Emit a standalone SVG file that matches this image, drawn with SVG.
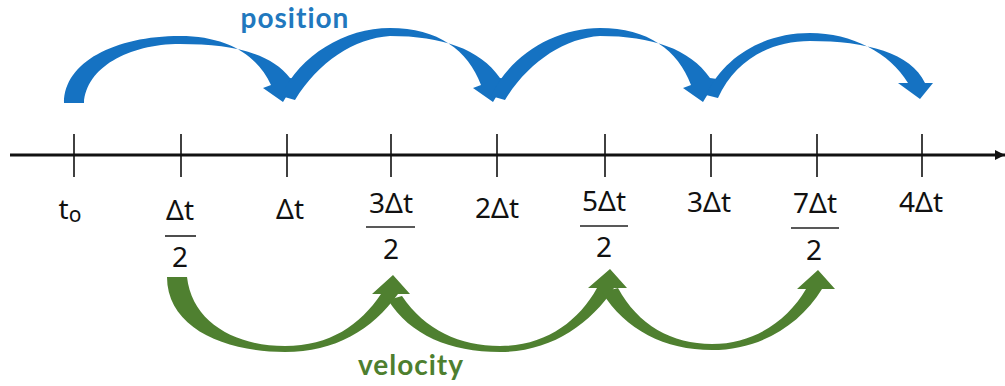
<svg xmlns="http://www.w3.org/2000/svg" width="1005" height="386" viewBox="0 0 1005 386">
  <style>
    .lbl { font-family: "Noto Sans", "DejaVu Sans", sans-serif; font-size: 28px; fill: #111; text-anchor: middle; }
    .tick { stroke: #111; stroke-width: 1.6; }
    .bar { stroke: #222; stroke-width: 1.6; }
    .blue { fill: #1572C2; }
    .green { fill: #4F8030; }
    .title { font-family: "Lato", "Open Sans", sans-serif; font-weight: bold; font-size: 28px; text-anchor: middle; letter-spacing: 1px; }
  </style>
  <defs>
    <marker id="axisHead" viewBox="0 0 10 10" refX="10" refY="5" markerWidth="10" markerHeight="10" markerUnits="userSpaceOnUse" orient="auto">
      <path d="M0,0 L10,5 L0,10 Z" fill="#111"/>
    </marker>
  </defs>
  <rect width="1005" height="386" fill="#fff"/>

  <g id="axis">
    <line x1="10" y1="155" x2="1005" y2="155" stroke="#111" stroke-width="3" marker-end="url(#axisHead)"/>
    <line class="tick" x1="74" y1="134" x2="74" y2="177"/>
    <line class="tick" x1="181" y1="134" x2="181" y2="177"/>
    <line class="tick" x1="287" y1="134" x2="287" y2="177"/>
    <line class="tick" x1="391" y1="134" x2="391" y2="177"/>
    <line class="tick" x1="497" y1="134" x2="497" y2="177"/>
    <line class="tick" x1="605" y1="134" x2="605" y2="177"/>
    <line class="tick" x1="711" y1="134" x2="711" y2="177"/>
    <line class="tick" x1="817" y1="134" x2="817" y2="177"/>
    <line class="tick" x1="922" y1="134" x2="922" y2="177"/>
  </g>

  <g id="label-t0"><text class="lbl" x="70" y="219">t<tspan font-size="21" dy="3">o</tspan></text></g>
  <g id="label-dt-half">
    <text class="lbl" x="180" y="220">Δt</text>
    <line class="bar" x1="165" y1="236" x2="196" y2="236"/>
    <text class="lbl" x="180" y="267">2</text>
  </g>
  <g id="label-dt"><text class="lbl" x="290" y="219">Δt</text></g>
  <g id="label-3dt-half">
    <text class="lbl" x="391" y="213">3Δt</text>
    <line class="bar" x1="366" y1="227" x2="415" y2="227"/>
    <text class="lbl" x="391" y="259">2</text>
  </g>
  <g id="label-2dt"><text class="lbl" x="497" y="218">2Δt</text></g>
  <g id="label-5dt-half">
    <text class="lbl" x="604" y="211">5Δt</text>
    <line class="bar" x1="580" y1="226" x2="628" y2="226"/>
    <text class="lbl" x="604" y="257">2</text>
  </g>
  <g id="label-3dt"><text class="lbl" x="709" y="212">3Δt</text></g>
  <g id="label-7dt-half">
    <text class="lbl" x="815" y="213">7Δt</text>
    <line class="bar" x1="791" y1="228" x2="839" y2="228"/>
    <text class="lbl" x="814" y="260">2</text>
  </g>
  <g id="label-4dt"><text class="lbl" x="921" y="212">4Δt</text></g>

  <g id="connectors">
    <g id="position-arrows">
      <path class="blue" d="M64,103 C64,62 115,36 180,36 C228,36 258,56 271,85 L263,88 L283,102 L297,79 L290,78 C270,52 230,44 180,44 C128,44 86,68 84,103 Z"/>
      <path class="blue" d="M281,96 C300,55 345,28 390,28 C438,28 468,50 481,85 L473,88 L493,102 L507,79 L500,78 C480,49 442,36 390,36 C355,38 318,62 295,100 Z"/>
      <path class="blue" d="M491,96 C510,55 555,28 600,28 C648,28 678,50 691,85 L683,88 L703,102 L717,79 L710,78 C690,49 652,36 600,36 C565,38 528,62 505,100 Z"/>
      <path class="blue" d="M706,95 C725,55 765,33 810,33 C852,33 890,53 908,83 L898,83 L920,99 L933,83 L925,83 C911,53 867,41 810,41 C770,41 735,60 718,98 Z"/>
    </g>
    <g id="velocity-arrows">
      <path class="green" d="M167,277 C167,328 225,352 285,352 C335,352 372,330 398,294 L410,294 L393,275 L372,294 L381,294 C360,325 330,346 285,346 C235,346 192,322 187,277 Z"/>
      <path class="green" d="M388,300 C410,335 450,352 500,352 C550,352 590,325 614,288 L627,288 L610,269 L588,288 L597,288 C578,322 545,346 500,346 C460,346 425,330 402,296 Z"/>
      <path class="green" d="M602,292 C625,330 665,350 712,350 C760,350 800,325 822,289 L835,289 L818,270 L797,289 L806,289 C788,320 755,344 712,344 C672,344 638,325 618,288 Z"/>
    </g>
  </g>

  <g id="label-position"><text class="title" x="295" y="28" fill="#2178BE">position</text></g>
  <g id="label-velocity"><text class="title" x="411" y="375" fill="#4E7F2F">velocity</text></g>
</svg>
